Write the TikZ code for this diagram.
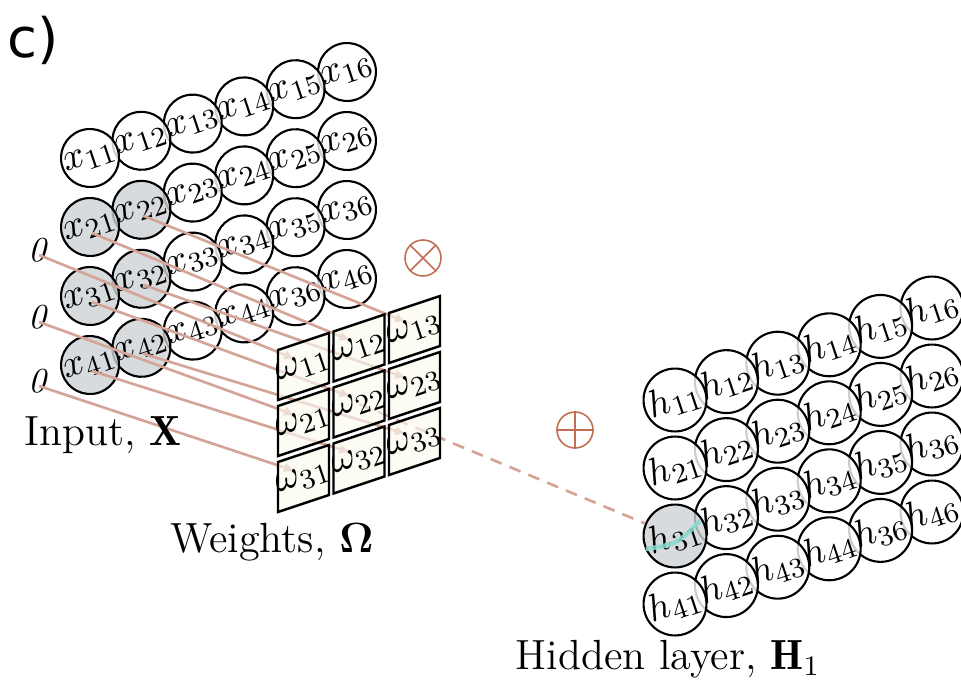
\documentclass[tikz,border=0pt]{standalone}
\usepackage{amsmath,amssymb}
\usepackage{fontspec}
\usetikzlibrary{arrows.meta,calc}
\newfontfamily\tagfont{DejaVu Sans}
\definecolor{wirec}{HTML}{D4A597}
\definecolor{opc}{HTML}{C26E55}
\definecolor{shade}{HTML}{CDD2D5}
\definecolor{cellc}{HTML}{FBFBF1}
\definecolor{hilite}{HTML}{8AD9CF}
\tikzset{unit/.style={circle,draw,line width=.6pt,fill=white,fill opacity=.8,text opacity=1,
  minimum size=5.8mm,inner sep=0pt,rotate=18.5,font=\fontsize{10.8}{12}\selectfont},
cell/.style={draw,line width=.7pt,fill=cellc,fill opacity=.65},
link/.style={-{Latex[length=1.1mm,width=1mm]},wirec,line width=.75pt},
op/.style={circle,draw=opc,line width=.45pt,minimum size=3.6mm,inner sep=0pt},
lab/.style={font=\fontsize{12}{14}\selectfont}}

\begin{document}
\begin{tikzpicture}[x=.1mm,y=-.1mm]
\fill[white] (0,0) rectangle (961,681);
\useasboundingbox (0,0) rectangle (961,681);
\node[font=\tagfont\fontsize{15.5}{17}\selectfont] (tag) at (33,40) {c)};
% input grid, right column first so the left one sits on top
\foreach \r/\row in {1/{16,15,14,13,12,11},2/{26,25,24,23,22,21},3/{36,35,34,33,32,31},4/{46,36,44,43,42,41}}{
  \foreach \t [count=\k] in \row {
    \pgfmathtruncatemacro\c{7-\k}
    \def\fc{white}\ifnum\c<3 \ifnum\r>1 \def\fc{shade}\fi\fi
    \node[unit,fill=\fc] (x\r\c) at ({90+51.4*(\c-1)},{158+69*(\r-1)-17.2*(\c-1)}) {$x_{\t}$};
  }}
% hidden grid
\foreach \r/\row in {1/{16,15,14,13,12,11},2/{26,25,24,23,22,21},3/{36,35,34,33,32,31},4/{46,36,44,43,42,41}}{
  \foreach \t [count=\k] in \row {
    \pgfmathtruncatemacro\c{7-\k}
    \def\fc{white}\ifnum\c=1 \ifnum\r=3 \def\fc{shade}\fi\fi
    \node[unit,fill=\fc] (h\r\c) at ({675+51.4*(\c-1)},{400+68*(\r-1)-18.4*(\c-1)}) {$h_{\t}$};
  }}
\foreach \r/\y in {2/250,3/317,4/381}
  \node (z\r) at (38,\y) {\textit{0}};
% kernel corners, centres and arrow ends
\foreach \i in {1,2,3}
  \foreach \j in {1,2,3}{
    \coordinate (c\i\j) at ({278+55.5*(\j-1)},{350+56*(\i-1)-18.5*(\j-1)});
    \coordinate (k\i\j) at ($(c\i\j)+(25.5,16.5)$);
    \coordinate (t\i\j) at ($(c\i\j)+(17,9)$);
  }
\foreach \i in {1,2,3}{
  \pgfmathtruncatemacro\r{\i+1}
  \draw[link] ($(z\r.center)+(1,5)$) -- (t\i1);
  \draw[link] ($(x\r1)+(2,6)$) -- (t\i2);
  \draw[link] ($(x\r2)+(2,6)$) -- (t\i3);
}
\draw[wirec,line width=.75pt,dash pattern=on 3.4pt off 2.4pt] (k22) -- (h31);
\foreach \i in {1,2,3}
  \foreach \j in {1,2,3}{
    \filldraw[cell] (c\i\j) -- ++(51,-17) -- ++(0,50) -- ++(-51,17) -- cycle;
    \node[rotate=18.5,font=\fontsize{10.8}{12}\selectfont] (w\i\j) at (k\i\j) {$\omega_{\i\j}$};
  }
\node[op] (mul) at (423,258) {};
\draw[opc,line width=.45pt] (mul.north west) -- (mul.south east) (mul.north east) -- (mul.south west);
\node[op] (add) at (575,430) {};
\draw[opc,line width=.45pt] (add.north) -- (add.south) (add.west) -- (add.east);
\draw[hilite,line width=1.3pt,opacity=.85] ($(h31)+(-29,13)$) .. controls ($(h31)+(2,8)$) .. ($(h31)+(25,-15)$);
\node[lab] (inlab) at (103,435) {Input, $\mathbf{X}$};
\node[lab] (wlab) at (272,542) {Weights, $\boldsymbol{\Omega}$};
\node[lab] (hlab) at (668,659) {Hidden layer, $\mathbf{H}_1$};
\end{tikzpicture}
\end{document}
